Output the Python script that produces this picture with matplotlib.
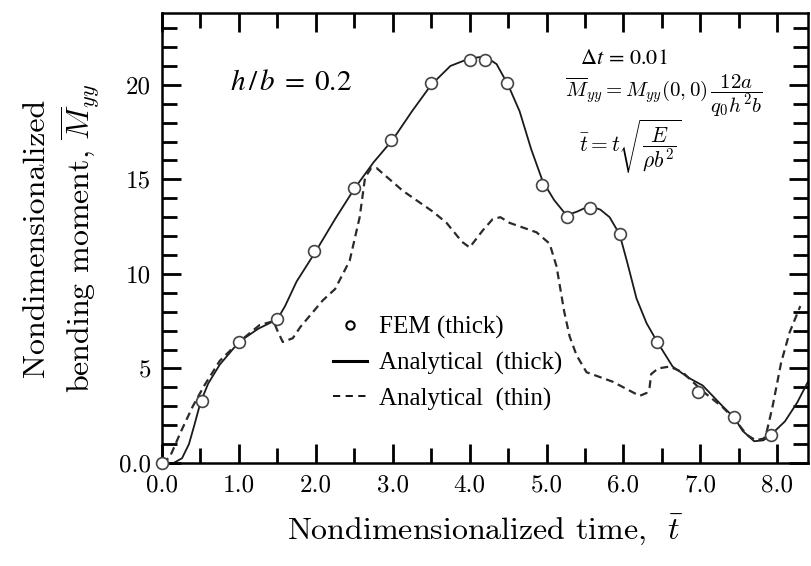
import numpy as np
import matplotlib
matplotlib.use("Agg")
import matplotlib.pyplot as plt
from matplotlib.lines import Line2D
from matplotlib.ticker import MultipleLocator

# FEM (thick) sample points
fem_t = [0.0, 0.52, 1.0, 1.5, 1.98, 2.49, 2.98, 3.5, 4.0, 4.2, 4.48,
         4.94, 5.26, 5.56, 5.95, 6.44, 6.97, 7.44, 7.92]
fem_m = [0.0, 3.3, 6.4, 7.6, 11.2, 14.55, 17.1, 20.1, 21.3, 21.3, 20.1,
         14.7, 13.0, 13.5, 12.1, 6.4, 3.75, 2.45, 1.5]

# Analytical (thick), solid line
thick_t = [0.0, 0.15, 0.26, 0.35, 0.42, 0.5, 0.6, 0.75, 1.0, 1.25, 1.5,
           1.6, 1.75, 2.0, 2.25, 2.5, 2.75, 3.0, 3.25, 3.5, 3.75, 4.0,
           4.2, 4.35, 4.5, 4.65, 4.8, 4.95, 5.1, 5.26, 5.4, 5.56, 5.7,
           5.82, 5.95, 6.05, 6.17, 6.3, 6.44, 6.64, 6.85, 7.03, 7.29,
           7.44, 7.55, 7.7, 7.82, 7.92, 8.1, 8.26, 8.4]
thick_m = [0.0, 0.0, 0.25, 1.0, 2.0, 3.2, 4.2, 5.2, 6.4, 7.1, 7.6,
           8.3, 9.6, 11.2, 12.9, 14.5, 15.9, 17.1, 18.6, 20.0, 21.0, 21.4,
           21.5, 21.1, 20.0, 18.6, 16.6, 14.9, 13.9, 13.1, 13.3, 13.6, 13.4,
           13.0, 12.1, 10.6, 8.7, 7.4, 6.4, 5.1, 4.5, 4.1, 3.0,
           2.4, 1.7, 1.15, 1.2, 1.5, 2.2, 3.2, 4.3]

# Analytical (thin), dashed line
thin_t = [0.0, 0.1, 0.25, 0.4, 0.55, 0.75, 1.0, 1.27, 1.45, 1.5, 1.57,
          1.7, 1.8, 2.09, 2.25, 2.44, 2.57, 2.64, 2.72, 2.79, 3.13, 3.52,
          3.7, 3.9, 4.0, 4.17, 4.3, 4.4, 4.52, 4.87, 5.04, 5.13, 5.23,
          5.3, 5.39, 5.52, 5.86, 6.21, 6.3, 6.34, 6.36, 6.45, 6.6, 6.77,
          6.9, 7.03, 7.29, 7.45, 7.6, 7.72, 7.83, 7.86, 7.94, 8.05, 8.16,
          8.3]
thin_m = [0.0, 0.3, 1.7, 3.0, 4.1, 5.4, 6.4, 7.3, 7.5, 7.0, 6.4,
          6.6, 7.2, 8.6, 9.2, 10.7, 13.0, 15.1, 15.6, 15.6, 14.4, 13.3,
          12.7, 11.7, 11.4, 12.3, 12.9, 13.0, 12.7, 12.2, 11.6, 10.4, 8.0,
          6.7, 5.7, 4.8, 4.3, 3.55, 3.7, 4.0, 4.7, 5.0, 5.1, 4.8,
          4.3, 3.8, 2.95, 2.3, 1.5, 1.2, 1.3, 1.6, 3.0, 5.3, 6.9,
          8.3]

x_ticks = [0, 1, 2, 3, 4, 5, 6, 7, 8]
x_labels = ["0.0", "1.0", "2.0", "3.0", "4.0", "5.0", "6.0", "7.0", "8.0"]
y_ticks = [0, 5, 10, 15, 20]
y_labels = ["0.0", "5", "10", "15", "20"]

plt.rcParams["mathtext.fontset"] = "cm"
plt.rcParams["font.family"] = ["cmr10", "DejaVu Serif"]
plt.rcParams["axes.formatter.use_mathtext"] = True

fig = plt.figure(figsize=(8.11, 5.66), dpi=100)
ax = fig.add_axes([0.1998, 0.182, 0.7965, 0.795])

ax.plot(thick_t, thick_m, color="#1a1a1a", lw=1.3, solid_capstyle="round")
ax.plot(thin_t, thin_m, color="#2a2a2a", lw=1.6, linestyle=(0, (3.5, 2.2)))
ax.plot(fem_t, fem_m, linestyle="none", marker="o", markersize=8.5,
        markerfacecolor="white", markeredgecolor="#444444",
        markeredgewidth=1.2, clip_on=False, zorder=5)

ax.set_xlim(0, 8.4)
ax.set_ylim(0, 23.8)

ax.set_xticks(x_ticks)
ax.set_xticklabels(x_labels)
ax.set_yticks(y_ticks)
ax.set_yticklabels(y_labels)
ax.xaxis.set_minor_locator(MultipleLocator(0.5))
ax.yaxis.set_minor_locator(MultipleLocator(1))

ax.tick_params(which="both", direction="in", top=True, right=True,
               labelsize=18, width=2, color="black")
ax.tick_params(which="major", length=14, pad=8)
ax.tick_params(which="minor", length=11)
for sp in ax.spines.values():
    sp.set_linewidth(1.8)

ax.set_xlabel(r"Nondimensionalized time,  $\bar{t}$", fontsize=23, labelpad=12)
ax.set_ylabel("Nondimensionalized\n" + r"bending moment, $\overline{M}_{yy}$",
              fontsize=23, labelpad=12, linespacing=1.3)

ax.text(0.88, 20.1, r"$h\,/\,b\; =\; 0.2$", fontsize=21, va="center",
        ha="left", math_fontfamily="stix")
ax.text(6.0, 21.4, r"$\Delta t\, =\, 0.01$", fontsize=16, ha="center",
        va="center", math_fontfamily="stix")
ax.text(6.53, 19.4,
        r"$\overline{M}_{yy} = M_{yy}(0,0)\,\dfrac{12a}{q_0 h^2 b}$",
        fontsize=15, ha="center", va="center")
ax.text(6.09, 16.7, r"$\bar{t} = t\sqrt{\dfrac{E}{\rho b^2}}$",
        fontsize=15.5, ha="center", va="center")

handles = [
    Line2D([], [], linestyle="none", marker="o", markersize=6,
           markerfacecolor="white", markeredgecolor="black",
           markeredgewidth=1.5),
    Line2D([], [], color="black", lw=2.2),
    Line2D([], [], color="black", lw=1.3, linestyle=(0, (4, 3))),
]
labels = ["FEM (thick)", "Analytical  (thick)", "Analytical  (thin)"]
ax.legend(handles, labels, loc="upper left", bbox_to_anchor=(0.265, 0.326),
          frameon=False, prop={"family": "Liberation Serif", "size": 18},
          handlelength=1.35, handletextpad=0.5, labelspacing=0.5,
          borderpad=0, borderaxespad=0)

fig.savefig("out.png", dpi=100)
